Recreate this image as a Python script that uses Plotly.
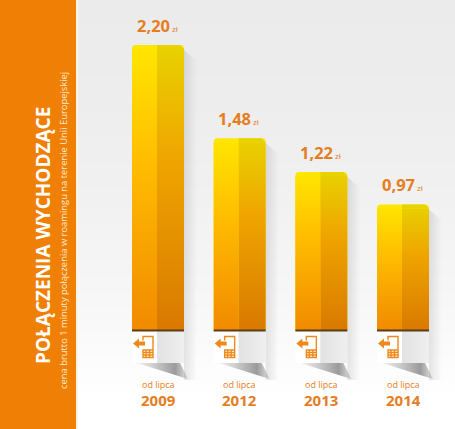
import plotly.graph_objects as go

years = ["2009", "2012", "2013", "2014"]
prices = [2.20, 1.48, 1.22, 0.97]
prices_text = ["2,20", "1,48", "1,22", "0,97"]
title_text = "POŁĄCZENIA WYCHODZĄCE"
subtitle_text = "cena brutto 1 minuty połączenia w roamingu na terenie Unii Europejskiej"
period_text = "od lipca"

W, H = 455, 429
PXU = 129.5      # pixels per zł
PXC = 81.67      # pixels per category
X0 = 158.0       # pixel of first category centre
Y0 = 330.0       # pixel of zero
BAR_W = 52 / PXC
ORANGE = "#e57e22"

def xv(px): return (px - X0) / PXC
def yv(px): return (Y0 - px) / PXU
def dy(px): return px / PXU
def dx(px): return px / PXC

fig = go.Figure()

# background gradient
bg_rows = [0, 100, 200, 300, 400]
bg_vals = [0.0, 0.1, 0.3, 0.6, 1.0]
fig.add_trace(go.Heatmap(
    x=[xv(0), xv(W)], y=[yv(p) for p in bg_rows],
    z=[[v, v] for v in bg_vals], zsmooth="best", showscale=False, hoverinfo="skip",
    zmin=0, zmax=1, colorscale=[[0, "#ebebeb"], [1, "#ffffff"]],
))

# the bars
fig.add_trace(go.Bar(
    x=list(range(len(prices))), y=prices, width=BAR_W,
    marker=dict(color="#ffe600", line_width=0, cornerradius=4),
    hovertemplate="%{y} zł<extra></extra>",
))

def poly(xs, ys, **grad):
    fig.add_trace(go.Scatter(
        x=xs, y=ys, mode="lines", line_width=0, fill="toself", hoverinfo="skip",
        fillgradient=grad,
    ))

for i, v in enumerate(prices):
    hw = BAR_W / 2
    l, r, m = i - hw, i + hw, i - dx(1)
    t = v - dy(4)
    # cast shadow right of bar
    poly([r, r + dx(13), r + dx(13), r],
         [v - dy(5), v - dy(16), yv(380), yv(380)],
         type="horizontal",
         colorscale=[[0, "rgba(0,0,0,0.10)"], [1, "rgba(0,0,0,0)"]])
    # left face gradient
    poly([l, m, m, l], [0, 0, t, t], type="vertical", start=0, stop=v,
         colorscale=[[0, "#f18a00"], [0.6, "#ffbe00"], [1, "#ffe600"]])
    # right face, darker
    poly([m, r, r, m], [0, 0, t, t], type="vertical", start=0, stop=v,
         colorscale=[[0, "#d97900"], [0.6, "#efa500"], [1, "#e8d200"]])
    # top cap of right half
    poly([m, r - dx(4), r, r, m], [v, v, t, t, t], type="vertical", start=t, stop=v,
         colorscale=[[0, "#e8d200"], [1, "#e8d200"]])
    # white base
    poly([l, i - dx(1), i - dx(1), l], [yv(363), yv(363), 0, 0], type="horizontal",
         colorscale=[[0, "#ffffff"], [1, "#ffffff"]])
    poly([i - dx(1), r, r, i - dx(1)], [yv(363), yv(363), 0, 0], type="horizontal",
         colorscale=[[0, "#e2e2e2"], [1, "#efefef"]])
    # shadow under base
    poly([i - dx(21), i + dx(22), i + dx(30)], [yv(363), yv(363), yv(379)], type="horizontal",
         colorscale=[[0, "rgba(90,90,90,0.05)"], [0.75, "rgba(90,90,90,0.6)"], [1, "rgba(90,90,90,0.15)"]])
    # dark seam
    fig.add_trace(go.Scatter(x=[l, r], y=[-dy(0.5), -dy(0.5)], mode="lines", hoverinfo="skip",
                             line=dict(color="#5a3d1a", width=2)))

shapes = [
    dict(type="rect", xref="x", yref="y", layer="above", x0=xv(0), x1=xv(76), y0=yv(0), y1=yv(H),
         fillcolor="#f07f06", line_width=0),
    dict(type="rect", xref="x", yref="y", layer="above", x0=xv(76), x1=xv(78), y0=yv(0), y1=yv(H),
         fillcolor="#fbf3e6", line_width=0),
]
PHONE = ("M -15 16 L -15 20 L -5 20 L -5 -1 L -15 -1 L -15 6.5 L -5 6.5 "
         "M -15 4 L -5 4 M -15 1.5 L -5 1.5 M -12 6 L -12 -1 M -8.5 6 L -8.5 -1")
ARROW = "M -25 13 L -19 18 L -19 15 L -13 15 L -13 11 L -19 11 L -19 8 Z"
for i in range(len(prices)):
    base = dict(type="path", xref="x", yref="y", xsizemode="pixel", ysizemode="pixel",
                xanchor=i, yanchor=yv(356.5), layer="above")
    shapes.append(dict(base, path=PHONE, line=dict(color="#ee8a1c", width=1.4)))
    shapes.append(dict(base, path=ARROW, fillcolor="#ee8a1c", line_width=0))

FONT = "Open Sans"
ann = []
for i, (v, s, yr) in enumerate(zip(prices, prices_text, years)):
    ann.append(dict(x=i - dx(0.5), y=v + dy(20),
                    text=f"<b>{s}</b><span style='font-size:8px'> zł</span>",
                    showarrow=False, font=dict(family=FONT, size=16.5, color=ORANGE)))
    ann.append(dict(x=i, y=yv(384), text=period_text, showarrow=False,
                    font=dict(family=FONT, size=9, color=ORANGE)))
    ann.append(dict(x=i, y=yv(399.5), text=f"<b>{yr}</b>", showarrow=False,
                    font=dict(family=FONT, size=15, color=ORANGE)))
ann.append(dict(x=xv(43), y=yv(236), text=f"<b>{title_text}</b>", textangle=-90, showarrow=False,
                font=dict(family=FONT, size=19, color="#ffffff")))
ann.append(dict(x=xv(63), y=yv(231), text=subtitle_text, textangle=-90, showarrow=False,
                font=dict(family=FONT, size=9.4, color="#fdebd0")))

fig.update_layout(
    width=W, height=H, margin=dict(l=0, r=0, t=0, b=0), showlegend=False,
    paper_bgcolor="#ffffff", plot_bgcolor="#ffffff", shapes=shapes, annotations=ann,
    xaxis=dict(range=[xv(0), xv(W)], visible=False, fixedrange=True),
    yaxis=dict(range=[yv(H), yv(0)], visible=False, fixedrange=True),
)
fig.write_html("out.html", config=dict(displayModeBar=False, responsive=False),
               post_script="document.body.style.margin='0';document.documentElement.style.overflow='hidden';")
